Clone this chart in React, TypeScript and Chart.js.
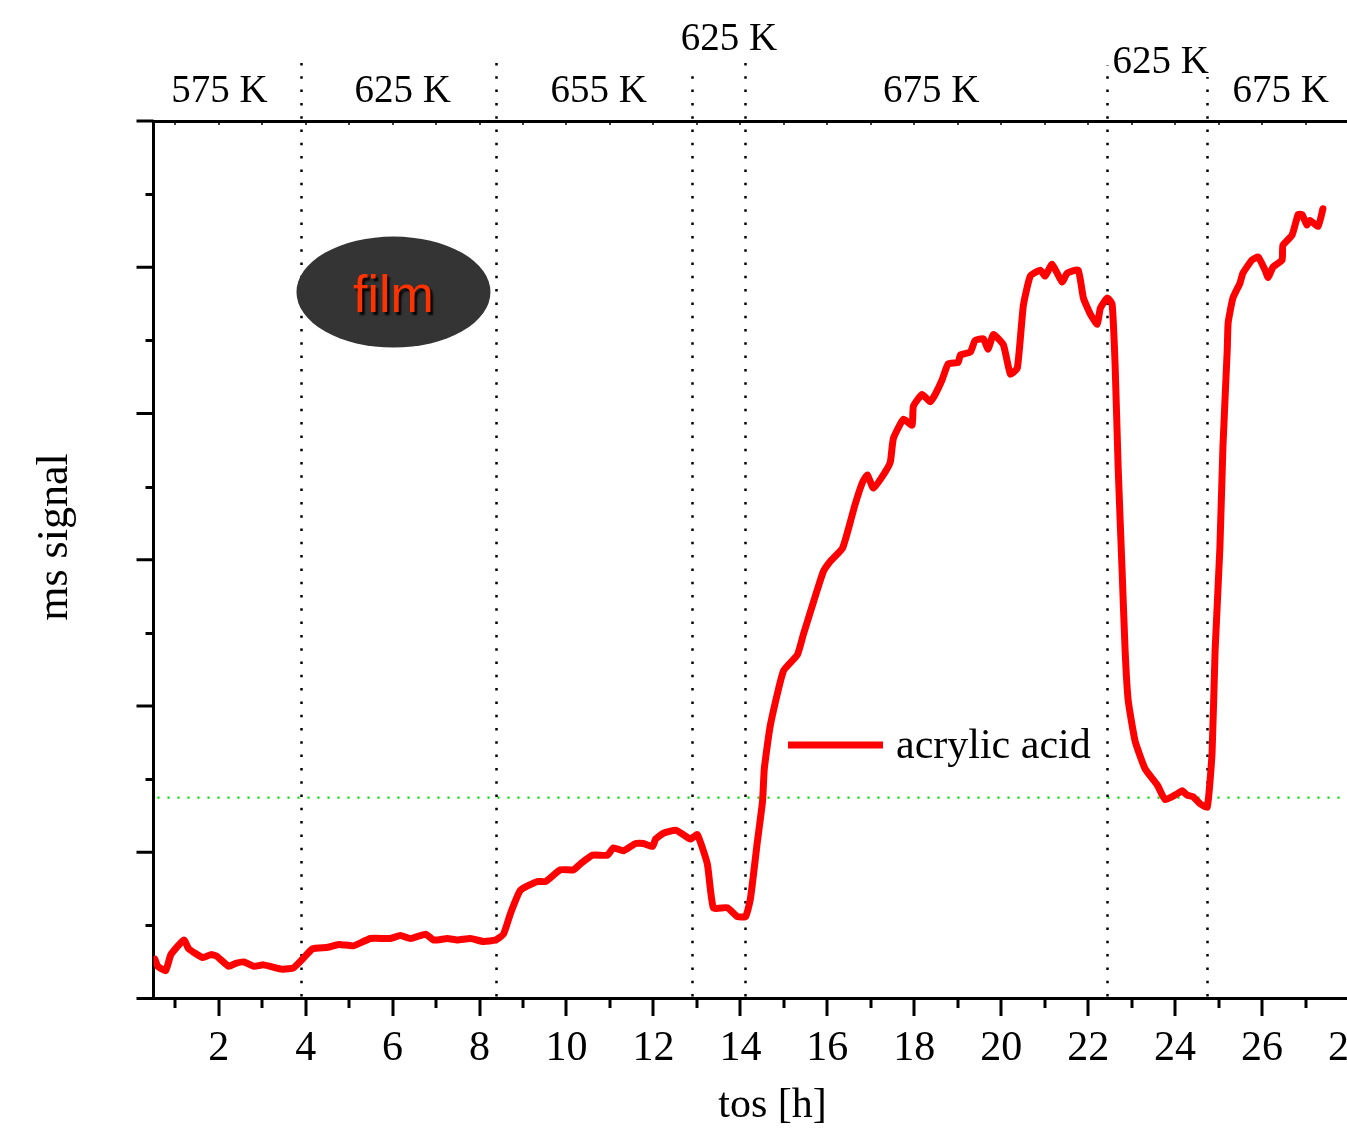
import React, { useEffect, useRef } from "react";
import { Chart, registerables } from "chart.js";

Chart.register(...registerables);

// ---- data ----
const timeH = [
  0.53, 0.6, 0.78, 0.9, 1.2, 1.31, 1.63, 1.82, 1.95, 2.23, 2.39, 2.58, 2.81, 3.03, 3.47, 3.72, 3.93,
  4.16, 4.51, 4.76, 5.1, 5.49, 5.95, 6.18, 6.41, 6.76, 6.94, 7.26, 7.49, 7.79, 8.09, 8.37,
  8.55, 8.71, 8.94, 9.33, 9.52, 9.86, 10.16, 10.32, 10.6, 10.94, 11.08, 11.31, 11.59, 11.77, 11.98,
  12.05, 12.23, 12.51, 12.69, 12.85, 13.01, 13.24, 13.38, 13.7, 13.93, 14.12, 14.23, 14.39, 14.51,
  14.55, 14.69, 14.99, 15.31, 15.45, 15.68, 15.91, 16.07, 16.35, 16.53, 16.64, 16.81, 16.92, 17.06,
  17.33, 17.45, 17.52, 17.75, 17.95, 17.98, 18.18, 18.37, 18.48, 18.64, 18.78, 19.01, 19.06, 19.29,
  19.4, 19.59, 19.7, 19.82, 20.05, 20.21, 20.37, 20.51, 20.67, 20.9, 21.01, 21.17, 21.4, 21.52,
  21.77, 21.89, 22.05, 22.21, 22.28, 22.44, 22.55, 22.62, 22.69, 22.78, 22.85, 22.92, 23.08, 23.31,
  23.59, 23.77, 24.05, 24.16, 24.28, 24.41, 24.58, 24.74, 24.85, 24.92, 25.03, 25.1, 25.2, 25.22,
  25.33, 25.49, 25.56, 25.77, 25.91, 26.07, 26.14, 26.25, 26.46, 26.48, 26.69, 26.83, 26.92, 27.03,
  27.1, 27.29, 27.4,
];
const signal = [
  0.27, 0.22, 0.19, 0.3, 0.4, 0.34, 0.28, 0.3, 0.29, 0.22, 0.24, 0.25, 0.22, 0.23, 0.2, 0.21, 0.27,
  0.34, 0.35, 0.37, 0.36, 0.41, 0.41, 0.43, 0.41, 0.44, 0.4, 0.41, 0.4, 0.41, 0.39, 0.4,
  0.44, 0.58, 0.74, 0.8, 0.8, 0.88, 0.88, 0.92, 0.98, 0.98, 1.03, 1.01, 1.06, 1.06, 1.04,
  1.09, 1.13, 1.15, 1.12, 1.09, 1.12, 0.92, 0.62, 0.62, 0.56, 0.56, 0.68, 1.07, 1.35,
  1.57, 1.87, 2.24, 2.35, 2.49, 2.71, 2.92, 2.99, 3.08, 3.26, 3.38, 3.53, 3.58, 3.49,
  3.6, 3.67, 3.83, 3.96, 3.92, 4.05, 4.13, 4.08, 4.13, 4.23, 4.34, 4.35, 4.4, 4.42,
  4.5, 4.51, 4.44, 4.54, 4.47, 4.27, 4.31, 4.74, 4.94, 4.98, 4.94, 5.02, 4.9, 4.96,
  4.98, 4.79, 4.68, 4.61, 4.72, 4.79, 4.75, 4.33, 3.63, 2.93, 2.38, 2.04, 1.76, 1.57,
  1.46, 1.36, 1.4, 1.42, 1.39, 1.38, 1.33, 1.31, 1.68, 2.38, 3.08, 3.77, 4.44, 4.62,
  4.79, 4.89, 4.96, 5.05, 5.07, 4.98, 4.93, 5.0, 5.05, 5.15, 5.22, 5.36, 5.36, 5.29,
  5.32, 5.28, 5.4,
];
const seriesLabel = "acrylic acid";

const xMin = 0.5;
const xMax = 28;
const yMin = 0;
const yMax = 6;
const xTickValues = [2, 4, 6, 8, 10, 12, 14, 16, 18, 20, 22, 24, 26, 28];
const xMinorTickValues = [1, 3, 5, 7, 9, 11, 13, 15, 17, 19, 21, 23, 25, 27];
const yMajorTickValues = [0, 1, 2, 3, 4, 5, 6];
const yMinorTickValues = [0.5, 1.5, 2.5, 3.5, 4.5, 5.5];

const switchTimes = [3.885, 8.38, 12.88, 14.11, 22.44, 24.74];
const tempLabels = ["575 K", "625 K", "655 K", "625 K", "675 K", "625 K", "675 K"];
const tempLabelCenters = [2.02, 6.23, 10.74, 13.74, 18.39, 23.67, 26.43];
const baselineLevel = 1.374;
const filmLabel = "film";
const filmCenterX = 6.02;
const filmCenterY = 4.83;
const xTitle = "tos [h]";
const yTitle = "ms signal";

// ---- styles ----
const SERIF = '"Liberation Serif", "Times New Roman", serif';
const tempLabelBaselineOffsets = [19, 19, 19, 71, 19, 48, 19]; // px above plot top
const switchLineTopOffsets = [58, 58, 46, 58, 56, 44]; // px above plot top

const decorPlugin = {
  id: "decor",
  beforeDatasetsDraw(chart: any) {
    const { ctx, chartArea, scales } = chart;
    const x = scales.x;
    const y = scales.y;
    ctx.save();
    // green dotted reference line
    ctx.strokeStyle = "#00dd00";
    ctx.lineWidth = 2.2;
    ctx.setLineDash([2, 8]);
    const gy = y.getPixelForValue(baselineLevel);
    ctx.beginPath();
    ctx.moveTo(chartArea.left + 4, gy);
    ctx.lineTo(chartArea.right, gy);
    ctx.stroke();
    // vertical dotted switch lines
    ctx.strokeStyle = "#000";
    ctx.lineWidth = 2.5;
    ctx.setLineDash([2.5, 10.8]);
    switchTimes.forEach((t, i) => {
      const px = Math.round(x.getPixelForValue(t)) + 0.5;
      ctx.beginPath();
      ctx.moveTo(px, chartArea.bottom - 2);
      ctx.lineTo(px, chartArea.top - switchLineTopOffsets[i]);
      ctx.stroke();
    });
    ctx.restore();
  },
  afterDraw(chart: any) {
    const { ctx, chartArea, scales } = chart;
    const x = scales.x;
    const y = scales.y;
    ctx.save();
    ctx.setLineDash([]);
    ctx.strokeStyle = "#000";
    ctx.lineCap = "butt";
    // bottom ticks
    ctx.lineWidth = 3;
    const bottom = chartArea.bottom + 1.5;
    xTickValues.forEach((v) => {
      const px = Math.round(x.getPixelForValue(v));
      ctx.beginPath();
      ctx.moveTo(px, bottom);
      ctx.lineTo(px, bottom + 16);
      ctx.stroke();
    });
    xMinorTickValues.forEach((v) => {
      const px = Math.round(x.getPixelForValue(v));
      ctx.beginPath();
      ctx.moveTo(px, bottom);
      ctx.lineTo(px, bottom + 8);
      ctx.stroke();
    });
    // top small ticks
    ctx.lineWidth = 1.5;
    [...xTickValues, ...xMinorTickValues].forEach((v) => {
      const px = Math.round(x.getPixelForValue(v));
      ctx.beginPath();
      ctx.moveTo(px, chartArea.top);
      ctx.lineTo(px, chartArea.top + 4);
      ctx.stroke();
    });
    // left ticks
    ctx.lineWidth = 3;
    const left = chartArea.left;
    yMajorTickValues.forEach((v) => {
      const py = y.getPixelForValue(v);
      ctx.beginPath();
      ctx.moveTo(left, py);
      ctx.lineTo(left - 17, py);
      ctx.stroke();
    });
    yMinorTickValues.forEach((v) => {
      const py = Math.round(y.getPixelForValue(v)) + 0.5;
      ctx.beginPath();
      ctx.moveTo(left, py);
      ctx.lineTo(left - 8, py);
      ctx.stroke();
    });

    // temperature labels
    ctx.fillStyle = "#000";
    ctx.font = `39px ${SERIF}`;
    ctx.textAlign = "center";
    ctx.textBaseline = "alphabetic";
    tempLabels.forEach((t, i) => {
      ctx.fillText(t, x.getPixelForValue(tempLabelCenters[i]), chartArea.top - tempLabelBaselineOffsets[i]);
    });

    // axis titles
    ctx.font = `42px ${SERIF}`;
    ctx.fillText(xTitle, chartArea.left + 619, chartArea.bottom + 118.5);
    ctx.save();
    ctx.translate(67, chartArea.top + 416);
    ctx.rotate(-Math.PI / 2);
    ctx.font = `44px ${SERIF}`;
    ctx.fillText(yTitle, 0, 0);
    ctx.restore();

    // film ellipse
    const fx = x.getPixelForValue(filmCenterX);
    const fy = y.getPixelForValue(filmCenterY);
    ctx.beginPath();
    ctx.ellipse(fx, fy, 97, 55.5, 0, 0, Math.PI * 2);
    ctx.fillStyle = "#343434";
    ctx.fill();
    ctx.save();
    ctx.shadowColor = "rgba(0,0,0,0.9)";
    ctx.shadowOffsetX = 2.5;
    ctx.shadowOffsetY = 2.5;
    ctx.shadowBlur = 2;
    ctx.fillStyle = "#ff3300";
    ctx.font = '52px "Liberation Sans", Arial, sans-serif';
    ctx.textAlign = "center";
    ctx.fillText(filmLabel, fx, fy + 20);
    ctx.restore();

    // legend
    const ds = chart.data.datasets[0];
    const lx = chartArea.left + 634.5;
    const ly = chartArea.top + 624;
    ctx.strokeStyle = ds.borderColor;
    ctx.lineWidth = 7;
    ctx.beginPath();
    ctx.moveTo(lx, ly);
    ctx.lineTo(lx + 95, ly);
    ctx.stroke();
    ctx.fillStyle = "#000";
    ctx.font = `42px ${SERIF}`;
    ctx.textAlign = "left";
    ctx.fillText(ds.label, lx + 108, ly + 13);
    ctx.restore();
  },
};

export default function App() {
  const ref = useRef<HTMLCanvasElement | null>(null);

  useEffect(() => {
    if (!ref.current) return;
    const points = timeH.map((t, i) => ({ x: t, y: signal[i] }));
    const chart = new Chart(ref.current, {
      type: "line",
      data: {
        datasets: [
          {
            label: seriesLabel,
            data: points,
            borderColor: "#ff0000",
            borderWidth: 7,
            pointRadius: 0,
            tension: 0.15,
            borderJoinStyle: "round",
            borderCapStyle: "round",
            fill: false,
          },
        ],
      },
      options: {
        responsive: false,
        devicePixelRatio: 1,
        animation: false,
        parsing: false,
        layout: { padding: { left: 0, right: 51, top: 0, bottom: 0 } },
        plugins: {
          legend: { display: false },
          tooltip: { enabled: false },
          title: { display: false },
        },
        scales: {
          x: {
            type: "linear",
            position: "bottom",
            min: xMin,
            max: xMax,
            afterBuildTicks: (s: any) => {
              s.ticks = xTickValues.map((value) => ({ value }));
            },
            afterFit: (s: any) => {
              s.height = 140.5;
            },
            ticks: {
              autoSkip: false,
              maxRotation: 0,
              minRotation: 0,
              padding: 25,
              color: "#000",
              font: { family: SERIF, size: 42 },
            },
            grid: { display: true, drawOnChartArea: false, drawTicks: false },
            border: { display: true, color: "#000", width: 3 },
          },
          x2: {
            type: "linear",
            position: "top",
            min: xMin,
            max: xMax,
            afterFit: (s: any) => {
              s.height = 121;
            },
            ticks: { display: false },
            grid: { display: true, drawOnChartArea: false, drawTicks: false },
            border: { display: true, color: "#000", width: 3 },
          },
          y: {
            type: "linear",
            position: "left",
            min: yMin,
            max: yMax,
            afterFit: (s: any) => {
              s.width = 153.5;
            },
            ticks: { display: false },
            grid: { display: true, drawOnChartArea: false, drawTicks: false },
            border: { display: true, color: "#000", width: 3 },
          },
        },
      },
      plugins: [decorPlugin],
    } as any);
    return () => chart.destroy();
  }, []);

  return (
    <div
      style={{
        position: "absolute",
        left: 0,
        top: 0,
        width: 1347,
        height: 1139,
        overflow: "hidden",
        background: "#fff",
      }}
    >
      <canvas ref={ref} width={1400} height={1139} style={{ display: "block", width: 1400, height: 1139 }} />
    </div>
  );
}
